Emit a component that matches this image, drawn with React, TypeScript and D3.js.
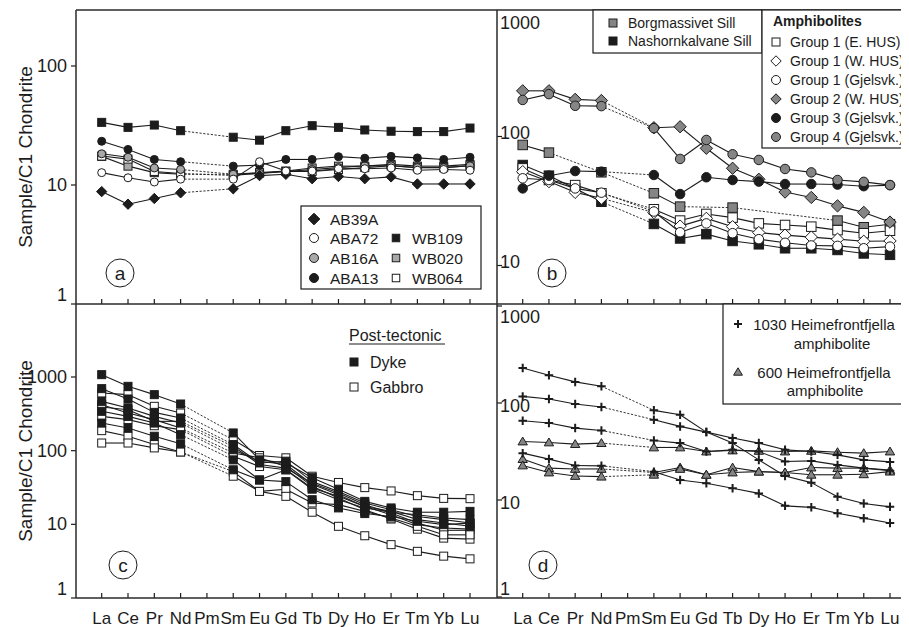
import React from "react";
import * as d3 from "d3";

const ELEMENTS = ["La", "Ce", "Pr", "Nd", "Pm", "Sm", "Eu", "Gd", "Tb", "Dy", "Ho", "Er", "Tm", "Yb", "Lu"];

// panel a
const AB39A = [8.8, 6.9, 7.7, 8.6, null, 9.3, 12.0, 12.3, 11.3, 11.8, 11.3, 11.7, 10.2, 10.2, 10.2];
const ABA72 = [12.7, 11.5, 10.6, 11.2, null, 11.2, 15.7, 13.1, 13.1, 13.7, 13.7, 13.9, 13.3, 13.5, 13.3];
const AB16A = [18.3, 17.1, 13.9, 13.5, null, 12.3, 12.5, 13.0, 13.5, 14.0, 14.5, 14.5, 14.0, 14.0, 14.5];
const ABA13 = [23.3, 19.9, 16.4, 15.7, null, 14.4, 14.7, 16.4, 16.4, 17.3, 16.8, 17.4, 16.9, 16.4, 17.1];
const WB109 = [33.6, 30.5, 31.9, 28.6, null, 25.2, 23.8, 28.6, 31.5, 30.5, 29.0, 28.3, 28.1, 28.1, 30.1];
const WB020 = [17.4, 14.4, 12.7, 12.3, null, 12.3, 12.7, 13.1, 13.9, 14.4, 14.4, 14.9, 14.4, 14.4, 14.9];
const WB064 = [17.5, 16.5, 13.0, 12.5, null, 12.0, 12.6, 13.0, 13.0, 13.5, 14.0, 14.5, 14.0, 14.0, 14.5];

// panel b
const BORG = [86, 75, null, 52.8, null, 36.3, 28.6, null, 28.1, null, null, null, 22.3, 19.8, 20.9];
const NASH = [60.1, 49.7, 39.6, 31.2, null, 21.0, 16.2, 17.5, 15.5, 14.6, 13.6, 13.6, 13.2, 12.4, 12.1];
const G1_EHUS = [56.6, 46, 42, 36.3, null, 27.3, 22.3, 25.1, 23.5, 21.2, 20.6, 20.0, 18.8, 17.8, 18.6];
const G1_WHUS = [53.4, 44.7, 36.9, 33.2, null, 25.7, 20.2, 23.2, 20.0, 18.0, 17.2, 16.6, 16.0, 15.4, 15.5];
const G1_GJEL = [47.4, 46, 39.6, 36.7, null, 26.2, 18.1, 21.2, 17.8, 16.0, 15.0, 14.3, 14.2, 13.6, 14.0];
const G2_WHUS = [226, 226, 194, 190, null, 117, 119, 81, 56.7, 46.6, 37.1, 33.7, 29.0, 25.8, 21.7];
const G3_GJEL = [39.6, 49.7, 54, 53.4, null, 50.3, 35.8, 48.3, 46, 44.7, 42.8, 42.8, 42.4, 41.2, 42];
const G4_GJEL = [192, 213, 173, 172, null, 116, 67, 94, 72.8, 65.8, 56, 52.7, 46, 44.5, 42];

// panel c (post-tectonic)
const DYKE = [
  [1076, 747, 576, 430, null, 174, 75, 68, 43, 30, 20.5, 16.7, 14.6, 14.6, 15],
  [695, 503, 331, 278, null, 121, 68, 72, 38, 28, 19.5, 15.8, 12.8, 11.6, 10.4],
  [467, 380, 292, 237, null, 103, 72, 65, 35, 25.3, 17.5, 15, 11.6, 10.4, 9.4],
  [342, 292, 237, 165, null, 75, 40, 55, 30, 21.6, 16.7, 14.6, 13.5, 12.2, 11.6],
  [237, 203, 157, 124, null, 55, 40, 38, 21.6, 16.7, 14, 12.8, 11, 9.9, 10.4],
];
const GABBRO = [
  [607, 576, 400, 324, null, 141, 86, 80, 45, 37, 31.5, 28.4, 24.5, 22.5, 22.3],
  [421, 324, 264, 203, null, 93, 80, 61, 33, 22.8, 15.8, 11.8, 8.6, 6.5, 6.3],
  [392, 360, 250, 250, null, 114, 65, 58, 36, 26.6, 18.5, 14.3, 10.4, 8.3, 8.3],
  [292, 264, 218, 193, null, 84, 61, 55, 31, 24, 17.5, 13.5, 9.9, 8.9, 8.6],
  [187, 157, 121, 96, null, 52, 28, 30, 19.5, 18.5, 15, 12.2, 9.4, 7.2, 7.2],
  [127, 127, 109, 96, null, 45, 28, 24, 14.6, 9.4, 7.0, 5.3, 4.3, 3.7, 3.4],
];

// panel d (Heimefrontfjella)
const HF1030 = [
  [230, 193, 165, 149, null, 84, 75.7, 50.1, 38.6, 25.9, 17.7, 15.1, 10.8, 9.2, 8.5],
  [117, 110, 97.7, 91, null, 67.2, 57.4, 50.1, 43.5, 38.6, 32.9, 31.6, 29.2, 25.9, 24.7],
  [65.7, 62.1, 55.1, 52.1, null, 41.1, 38.6, 31.6, 32.9, 31.6, 24.9, 25.3, 23.0, 21.3, 20.0],
  [30.4, 26.4, 22.7, 22.5, null, 19.6, 16.1, 14.9, 13.2, 11.7, 8.7, 8.4, 7.3, 6.5, 5.8],
];
const HF600 = [
  [40.1, 39.2, 37.7, 38.6, null, 34.8, 34.8, 31.6, 32.4, 32.1, 31.6, 32.1, 31.1, 30.4, 31.6],
  [26.4, 21.3, 20.9, 20.9, null, 19.2, 21.6, 18.2, 21.6, 19.6, 19.2, 21.6, 21.3, 21.3, 20.4],
  [22.7, 19.2, 17.7, 17.4, null, 18.2, 20.9, 18.2, 19.2, 19.6, 19.2, 18.2, 18.2, 18.4, 19.6],
];

const INK = "#1c1c1c";
const GREY = "#858585";
const LIGHT = "#a8a8a8";
const FONT = "'Liberation Sans', Arial, Helvetica, sans-serif";

type Mk = "square" | "circle" | "diamond" | "triangle" | "plus";

function Mark({ type, x, y, s, fill }: { type: Mk; x: number; y: number; s: number; fill: string }) {
  const h = s / 2;
  if (type === "square")
    return <rect x={x - h} y={y - h} width={s} height={s} fill={fill} stroke={INK} strokeWidth={1} />;
  if (type === "circle") return <circle cx={x} cy={y} r={h} fill={fill} stroke={INK} strokeWidth={1} />;
  if (type === "diamond") {
    const d = h * 1.3;
    return <path d={`M${x},${y - d}L${x + d},${y}L${x},${y + d}L${x - d},${y}Z`} fill={fill} stroke={INK} strokeWidth={1} />;
  }
  if (type === "triangle")
    return (
      <path d={`M${x},${y - h * 1.05}L${x + h * 1.1},${y + h * 0.8}L${x - h * 1.1},${y + h * 0.8}Z`}
        fill={fill} stroke={INK} strokeWidth={1} />
    );
  return <path d={`M${x - h},${y}H${x + h}M${x},${y - h}V${y + h}`} stroke={INK} strokeWidth={2} fill="none" />;
}

interface Series { values: (number | null)[]; marker: Mk; fill: string }

function Lines({ series, x, y, size }: { series: Series[]; x: any; y: any; size: number }) {
  return (
    <g>
      {series.map((s, k) => {
        const pts = s.values
          .map((v, i) => (v == null ? null : { i, px: x(ELEMENTS[i]), py: y(v) }))
          .filter((p) => p != null) as { i: number; px: number; py: number }[];
        return (
          <g key={k}>
            {pts.slice(1).map((p, j) => {
              const q = pts[j];
              const gap = p.i - q.i > 1;
              return (
                <line key={j} x1={q.px} y1={q.py} x2={p.px} y2={p.py} stroke={INK}
                  strokeWidth={gap ? 0.9 : 1.1} strokeDasharray={gap ? "2.2,1.6" : undefined} />
              );
            })}
          </g>
        );
      })}
      {series.map((s, k) => (
        <g key={"m" + k}>
          {s.values.map((v, i) =>
            v == null ? null : <Mark key={i} type={s.marker} x={x(ELEMENTS[i])} y={y(v)} s={size} fill={s.fill} />
          )}
        </g>
      ))}
    </g>
  );
}

function Panel(props: {
  left: number; top: number; bottom: number;
  xRange: [number, number]; yDomain: [number, number]; yRange: [number, number];
  ticks: number[]; inside: boolean; labelDy: number; series: Series[]; size: number; tag: string; tagX: number; tagY: number;
}) {
  const { left, top, bottom, xRange, yDomain, yRange, ticks, inside, labelDy, series, size, tag, tagX, tagY } = props;
  const x = d3.scalePoint<string>().domain(ELEMENTS).range(xRange);
  const y = d3.scaleLog().domain(yDomain).range(yRange);
  return (
    <g>
      {ELEMENTS.map((e) => (
        <line key={e} x1={x(e)} x2={x(e)} y1={bottom} y2={bottom - 5} stroke={INK} strokeWidth={1.2} />
      ))}
      {ticks.map((t) => {
        const ty = y(t);
        const ly = Math.max(top + 13, Math.min(bottom - 9, ty + labelDy));
        return (
          <g key={t}>
            {ty >= top && ty <= bottom && (
              <line x1={inside ? left : left - 5} x2={inside ? left + 5 : left} y1={ty} y2={ty} stroke={INK} strokeWidth={1.2} />
            )}
            <text x={inside ? left + 3 : left - 9} y={ly} textAnchor={inside ? "start" : "end"}
              dominantBaseline="central" fontSize={18} fill={INK}>
              {t}
            </text>
          </g>
        );
      })}
      <Lines series={series} x={x} y={y} size={size} />
      <circle cx={tagX} cy={tagY} r={14} fill="white" stroke={INK} strokeWidth={1} />
      <text x={tagX} y={tagY} textAnchor="middle" dominantBaseline="central" fontSize={19} fill={INK}>{tag}</text>
    </g>
  );
}

const seriesA: Series[] = [
  { values: WB109, marker: "square", fill: INK },
  { values: WB020, marker: "square", fill: LIGHT },
  { values: WB064, marker: "square", fill: "white" },
  { values: AB16A, marker: "circle", fill: LIGHT },
  { values: ABA13, marker: "circle", fill: INK },
  { values: AB39A, marker: "diamond", fill: INK },
  { values: ABA72, marker: "circle", fill: "white" },
];
const seriesB: Series[] = [
  { values: BORG, marker: "square", fill: GREY },
  { values: NASH, marker: "square", fill: INK },
  { values: G1_EHUS, marker: "square", fill: "white" },
  { values: G1_WHUS, marker: "diamond", fill: "white" },
  { values: G1_GJEL, marker: "circle", fill: "white" },
  { values: G2_WHUS, marker: "diamond", fill: GREY },
  { values: G3_GJEL, marker: "circle", fill: INK },
  { values: G4_GJEL, marker: "circle", fill: GREY },
];
const seriesC: Series[] = [
  ...GABBRO.map((v) => ({ values: v, marker: "square" as Mk, fill: "white" })),
  ...DYKE.map((v) => ({ values: v, marker: "square" as Mk, fill: INK })),
];
const seriesD: Series[] = [
  ...HF600.map((v) => ({ values: v, marker: "triangle" as Mk, fill: GREY })),
  ...HF1030.map((v) => ({ values: v, marker: "plus" as Mk, fill: INK })),
];

const L = 76, M = 497, R = 907, T = 10, H = 304, B = 598;

function LegendRow({ x, y, type, fill, label, s = 9, fs = 15.5, gap = 16 }:
  { x: number; y: number; type: Mk; fill: string; label: string; s?: number; fs?: number; gap?: number }) {
  return (
    <g>
      <Mark type={type} x={x} y={y} s={s} fill={fill} />
      <text x={x + gap} y={y} dominantBaseline="central" fontSize={fs} fill={INK}>{label}</text>
    </g>
  );
}

export default function App() {
  const xa = d3.scalePoint<string>().domain(ELEMENTS).range([101.7, 470]);
  const xb = d3.scalePoint<string>().domain(ELEMENTS).range([522.7, 890]);
  return (
    <svg width={901} height={619} viewBox="8 8 901 619" style={{ display: "block", fontFamily: FONT }}>
      <rect x={0} y={0} width={909} height={627} fill="white" />
      <Panel left={L} top={T} bottom={H} xRange={[101.7, 470]} yDomain={[1, 100]} yRange={[304, 66]}
        ticks={[1, 10, 100]} inside={false} labelDy={0} series={seriesA} size={8} tag="a" tagX={120} tagY={273} />
      <Panel left={M} top={T} bottom={H} xRange={[522.7, 890]} yDomain={[10, 100]} yRange={[265.5, 136.5]}
        ticks={[10, 100, 1000]} inside={true} labelDy={-4} series={seriesB} size={9.5} tag="b" tagX={552} tagY={273} />
      <Panel left={L} top={H} bottom={B} xRange={[101.7, 470]} yDomain={[1, 1000]} yRange={[598, 377]}
        ticks={[1, 10, 100, 1000]} inside={false} labelDy={0} series={seriesC} size={8} tag="c" tagX={123} tagY={565} />
      <Panel left={M} top={H} bottom={B} xRange={[522.7, 890]} yDomain={[1, 1000]} yRange={[597, 306]}
        ticks={[1, 10, 100, 1000]} inside={true} labelDy={3} series={seriesD} size={8.5} tag="d" tagX={543} tagY={565} />

      {/* frame */}
      <g stroke="#2a2a2a" strokeWidth={1.5}>
        <line x1={L} x2={R} y1={T} y2={T} />
        <line x1={L} x2={R} y1={H} y2={H} />
        <line x1={L} x2={R} y1={B} y2={B} />
        <line x1={L} x2={L} y1={T} y2={B} />
        <line x1={M} x2={M} y1={T} y2={B} />
      </g>

      {/* x labels */}
      {ELEMENTS.map((e) => (
        <g key={e}>
          <text x={xa(e)} y={618} textAnchor="middle" dominantBaseline="central" fontSize={17} fill={INK}>{e}</text>
          <text x={xb(e)} y={618} textAnchor="middle" dominantBaseline="central" fontSize={17} fill={INK}>{e}</text>
        </g>
      ))}

      {/* y titles */}
      <text transform="translate(32,157) rotate(-90)" textAnchor="middle" fontSize={19} fill={INK}>Sample/C1 Chondrite</text>
      <text transform="translate(32,451) rotate(-90)" textAnchor="middle" fontSize={19} fill={INK}>Sample/C1 Chondrite</text>

      {/* legend a */}
      <rect x={301} y={206} width={180} height={83} fill="white" stroke={INK} strokeWidth={1.2} />
      <LegendRow x={314} y={219} type="diamond" fill={INK} label="AB39A" />
      <LegendRow x={314} y={238} type="circle" fill="white" label="ABA72" />
      <LegendRow x={314} y={258} type="circle" fill={LIGHT} label="AB16A" />
      <LegendRow x={314} y={278} type="circle" fill={INK} label="ABA13" />
      <LegendRow x={396} y={238} type="square" fill={INK} label="WB109" s={7.5} />
      <LegendRow x={396} y={258} type="square" fill={LIGHT} label="WB020" s={7.5} />
      <LegendRow x={396} y={278} type="square" fill="white" label="WB064" s={7.5} />

      {/* legends b */}
      <rect x={593} y={T} width={169} height={43} fill="white" stroke={INK} strokeWidth={1.2} />
      <LegendRow x={613} y={23} type="square" fill={GREY} label="Borgmassivet Sill" s={8} fs={14} gap={15} />
      <LegendRow x={613} y={41} type="square" fill={INK} label="Nashornkalvane Sill" s={8} fs={14} gap={15} />
      <rect x={762} y={T} width={144} height={138} fill="white" stroke={INK} strokeWidth={1.2} />
      <text x={773} y={21} dominantBaseline="central" fontSize={14} fontWeight="bold" fill={INK}>Amphibolites</text>
      <LegendRow x={776} y={42} type="square" fill="white" label="Group 1 (E. HUS)" s={8} fs={14} gap={14} />
      <LegendRow x={776} y={61} type="diamond" fill="white" label="Group 1 (W. HUS)" s={8} fs={14} gap={14} />
      <LegendRow x={776} y={80} type="circle" fill="white" label="Group 1 (Gjelsvk.)" s={9} fs={14} gap={14} />
      <LegendRow x={776} y={99} type="diamond" fill={GREY} label="Group 2 (W. HUS)" s={8} fs={14} gap={14} />
      <LegendRow x={776} y={118} type="circle" fill={INK} label="Group 3 (Gjelsvk.)" s={9} fs={14} gap={14} />
      <LegendRow x={776} y={137} type="circle" fill={GREY} label="Group 4 (Gjelsvk.)" s={9} fs={14} gap={14} />

      {/* legend c */}
      <text x={349} y={335} dominantBaseline="central" fontSize={16} fill={INK}>Post-tectonic</text>
      <line x1={349} x2={445} y1={344} y2={344} stroke={INK} strokeWidth={1} />
      <LegendRow x={354} y={362} type="square" fill={INK} label="Dyke" s={8} fs={16} />
      <LegendRow x={354} y={387} type="square" fill="white" label="Gabbro" s={8} fs={16} />

      {/* legend d */}
      <rect x={723} y={H} width={183} height={100} fill="white" stroke={INK} strokeWidth={1.2} />
      <Mark type="plus" x={738} y={324} s={8} fill={INK} />
      <text x={824} y={324} textAnchor="middle" dominantBaseline="central" fontSize={15} fill={INK}>1030 Heimefrontfjella</text>
      <text x={832} y={343} textAnchor="middle" dominantBaseline="central" fontSize={15} fill={INK}>amphibolite</text>
      <Mark type="triangle" x={738} y={372} s={8} fill={GREY} />
      <text x={824} y={372} textAnchor="middle" dominantBaseline="central" fontSize={15} fill={INK}>600 Heimefrontfjella</text>
      <text x={825} y={390} textAnchor="middle" dominantBaseline="central" fontSize={15} fill={INK}>amphibolite</text>
    </svg>
  );
}
